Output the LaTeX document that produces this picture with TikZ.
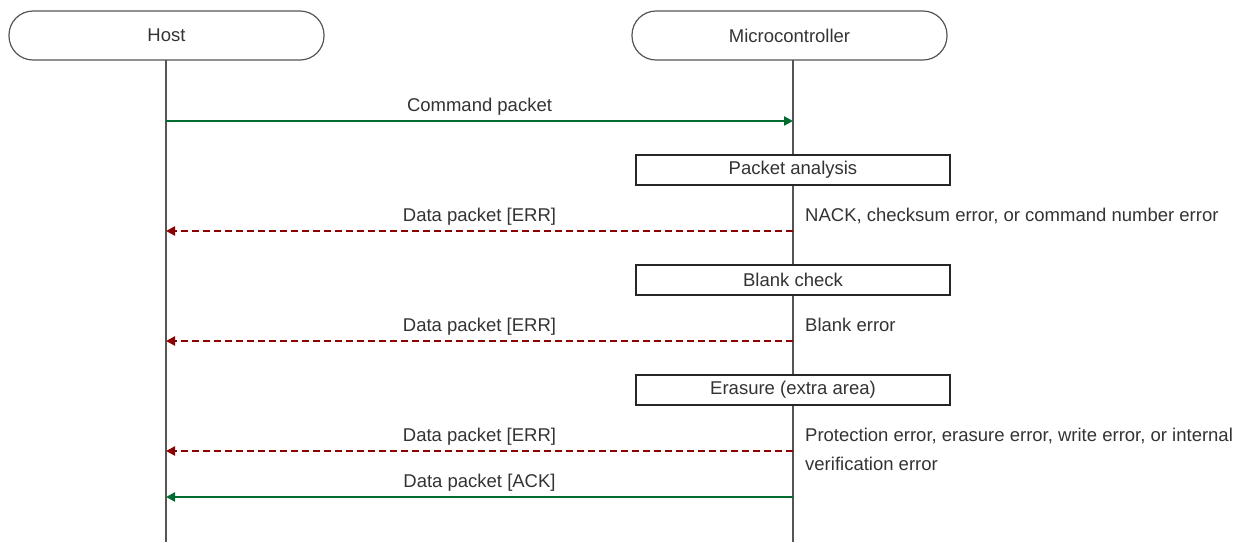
\documentclass[tikz,border=0pt]{standalone}
\usepackage{fontspec}
\setmainfont{Liberation Sans}
\usetikzlibrary{arrows.meta}
\definecolor{okgreen}{HTML}{006B2E}
\definecolor{errred}{HTML}{8B0000}
\definecolor{lifegray}{HTML}{555555}
\definecolor{txt}{HTML}{333333}
\newcommand{\dfont}{\fontsize{18.5}{22}\selectfont}
\begin{document}
\begin{tikzpicture}[x=1pt,y=-1pt,
  actor/.style={draw=lifegray,line width=1.2pt,rounded corners=24pt,minimum width=315pt,minimum height=49pt,inner sep=0pt,font=\dfont,text=txt},
  activity/.style={draw=black!85,line width=1.3pt,minimum width=314pt,minimum height=30pt,inner sep=0pt,fill=white,font=\dfont,text=txt},
  lifeline/.style={lifegray,line width=1.3pt},
  okmsg/.style={okgreen,line width=2.2pt,-{Triangle[length=9pt,width=9pt]}},
  errmsg/.style={errred,line width=2.2pt,dash pattern=on 7pt off 4pt,-{Triangle[length=9pt,width=9pt]}},
  lbl/.style={font=\dfont,text=txt,inner sep=0pt,anchor=base,yshift=10pt},
  note/.style={font=\dfont,text=txt,inner sep=0pt,anchor=base west}
]
\useasboundingbox (0,0) rectangle (1241,542);
\node[actor] (host) at (166.5,35.5) {Host};
\node[actor] (mcu) at (789.5,35.5) {Microcontroller};
\coordinate (hosttop) at (166,60);
\coordinate (hostbot) at (166,542);
\coordinate (mcutop) at (793,60);
\coordinate (mcubot) at (793,542);
\draw[lifeline] (hosttop) -- (hostbot);
\draw[lifeline] (mcutop) -- (mcubot);

\coordinate (h1) at (166,121); \coordinate (m1) at (793,121);
\draw[okmsg] (h1) -- node[lbl] {Command packet} (m1);

\node[activity] (pa) at (793,170) {Packet analysis};
\coordinate (h2) at (166,231); \coordinate (m2) at (793,231);
\draw[errmsg] (m2) -- node[lbl] {Data packet [ERR]} (h2);
\node[note] (n2) at (805,221) {NACK, checksum error, or command number error};

\node[activity] (bc) at (793,280) {Blank check};
\coordinate (h3) at (166,341); \coordinate (m3) at (793,341);
\draw[errmsg] (m3) -- node[lbl] {Data packet [ERR]} (h3);
\node[note] (n3) at (805,331) {Blank error};

\node[activity] (er) at (793,390) {Erasure (extra area)};
\coordinate (h4) at (166,451); \coordinate (m4) at (793,451);
\draw[errmsg] (m4) -- node[lbl] {Data packet [ERR]} (h4);
\node[note] (n4) at (805,441) {Protection error, erasure error, write error, or internal};
\node[note] (n4b) at (805,470) {verification error};

\coordinate (h5) at (166,497); \coordinate (m5) at (793,497);
\draw[okmsg] (m5) -- node[lbl] {Data packet [ACK]} (h5);
\end{tikzpicture}
\end{document}
